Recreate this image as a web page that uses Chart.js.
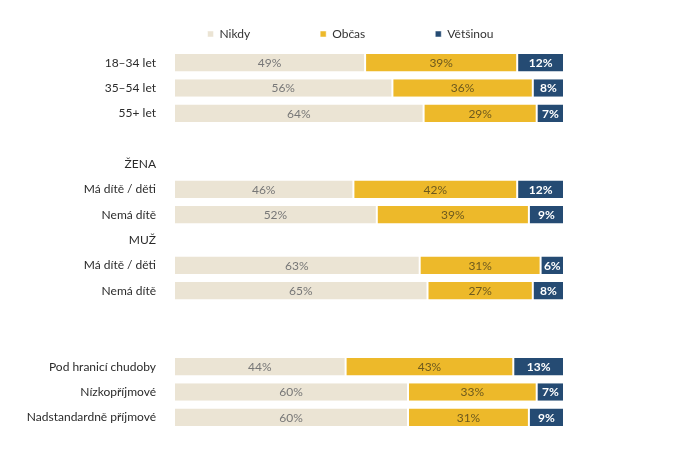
<!DOCTYPE html>
<html>
<head>
<meta charset="utf-8">
<script src="https://cdn.jsdelivr.net/npm/chart.js@4/dist/chart.umd.min.js"></script>
<style>
  html, body { margin: 0; padding: 0; background: #fff; }
  #wrap { width: 682px; height: 476px; }
</style>
</head>
<body>
<div id="wrap"><canvas id="c" width="682" height="476"></canvas></div>
<script>
const categories = ['18–34 let', '35–54 let', '55+ let', '', 'ŽENA', 'Má dítě / děti', 'Nemá dítě', 'MUŽ', 'Má dítě / děti', 'Nemá dítě', '', '', 'Pod hranicí chudoby', 'Nízkopříjmové', 'Nadstandardně příjmové'];
const seriesNames = ['Nikdy', 'Občas', 'Většinou'];
const nikdy =    [49, 56, 64, null, null, 46, 52, null, 63, 65, null, null, 44, 60, 60];
const obcas =    [39, 36, 29, null, null, 42, 39, null, 31, 27, null, null, 43, 33, 31];
const vetsinou = [12,  8,  7, null, null, 12,  9, null,  6,  8, null, null, 13,  7,  9];

const FONT = 'Lato, "Open Sans", sans-serif';
const colors = ['#ebe4d4', '#edb92a', '#254b73'];
const labelColors = ['#777777', '#6e5a1e', '#ffffff'];
const labelWeights = ['normal', 'normal', 'bold'];

const valueLabels = {
  id: 'valueLabels',
  afterDatasetsDraw(chart) {
    const ctx = chart.ctx;
    ctx.save();
    ctx.textAlign = 'center';
    ctx.textBaseline = 'middle';
    chart.data.datasets.forEach((ds, di) => {
      const meta = chart.getDatasetMeta(di);
      meta.data.forEach((el, i) => {
        const v = ds.data[i];
        if (v == null) return;
        const p = el.getProps(['x', 'y', 'base'], true);
        ctx.font = labelWeights[di] + ' 12px ' + FONT;
        ctx.fillStyle = labelColors[di];
        ctx.fillText(v + '%', (p.x + p.base) / 2, p.y + 0.5);
      });
    });
    ctx.restore();
  }
};

new Chart(document.getElementById('c'), {
  type: 'bar',
  data: {
    labels: categories,
    datasets: [nikdy, obcas, vetsinou].map((d, i) => ({
      label: seriesNames[i],
      data: d,
      backgroundColor: colors[i],
      borderColor: '#ffffff',
      borderWidth: { left: 1, right: 1, top: 0, bottom: 0 },
      borderSkipped: false,
      barPercentage: 0.69,
      categoryPercentage: 1
    }))
  },
  options: {
    indexAxis: 'y',
    responsive: false,
    animation: false,
    layout: { padding: { top: -42, left: 19, right: 0, bottom: 46 } },
    plugins: {
      legend: {
        position: 'top',
        align: 'center',
        labels: {
          boxWidth: 6,
          boxHeight: 6,
          padding: 70,
          color: '#333333',
          font: { family: FONT, size: 12 }
        }
      },
      tooltip: { enabled: false }
    },
    scales: {
      x: { stacked: true, min: 0, max: 100, display: false },
      y: {
        stacked: true,
        grid: { display: false },
        border: { display: false },
        ticks: { color: '#2b2b2b', padding: 10, font: { family: FONT, size: 12 } },
        afterFit(s) { s.width = 155; }
      },
      yR: {
        type: 'category',
        position: 'right',
        grid: { display: false },
        border: { display: false },
        ticks: { display: false },
        afterFit(s) { s.width = 118; }
      }
    }
  },
  plugins: [valueLabels]
});
</script>
</body>
</html>
